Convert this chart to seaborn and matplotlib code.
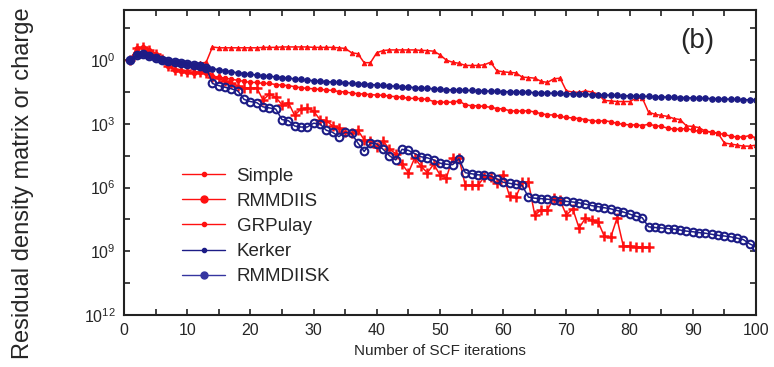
import numpy as np
import pandas as pd
import matplotlib
matplotlib.use("Agg")
import matplotlib.pyplot as plt
import seaborn as sns
from matplotlib.lines import Line2D
from matplotlib.ticker import FixedLocator, NullFormatter, MultipleLocator

# log10 of the residual (iteration 1, 2, 3, ...)
simple = [0.00, 0.55, 0.60, 0.50, 0.30, 0.05, -0.30, -0.45, -0.50, -0.55,
          -0.60, -0.55, -0.60, -0.75, -0.80, -0.85, -0.90, -0.95, -1.00, -1.05,
          -1.05, -1.10, -1.10, -1.15, -1.18, -1.20, -1.25, -1.30, -1.33, -1.35,
          -1.38, -1.40, -1.43, -1.48, -1.50, -1.55, -1.58, -1.60, -1.62, -1.65,
          -1.65, -1.70, -1.72, -1.75, -1.80, -1.80, -1.82, -1.85, -1.95, -1.98,
          -1.98, -1.98, -1.92, -2.10, -2.15, -2.15, -2.18, -2.22, -2.28, -2.30,
          -2.38, -2.40, -2.40, -2.38, -2.45, -2.52, -2.58, -2.58, -2.65, -2.70,
          -2.72, -2.75, -2.80, -2.85, -2.88, -2.85, -2.90, -2.98, -3.02, -3.05,
          -3.05, -3.08, -3.02, -3.08, -3.12, -3.20, -3.25, -3.25, -3.22, -3.30,
          -3.35, -3.35, -3.38, -3.45, -3.50, -3.58, -3.62, -3.62, -3.55, -3.67]

rmmdiis = [0.00, 0.55, 0.60, 0.50, 0.30, 0.05, -0.30, -0.45, -0.50, -0.55,
           -0.60, -0.55, -0.60, -0.80, -0.85, -1.00, -1.10, -1.20, -1.30, -1.32,
           -1.30, -1.88, -1.60, -1.75, -2.10, -2.00, -2.60, -2.30, -2.25, -2.40,
           -2.80, -2.85, -3.10, -3.20, -3.40, -3.45, -3.30, -3.75, -3.80, -4.10,
           -3.80, -4.20, -4.40, -4.90, -5.30, -4.60, -5.00, -5.30, -4.90, -5.40,
           -5.55, -4.60, -4.60, -5.90, -5.90, -5.90, -5.50, -5.50, -5.80, -5.40,
           -6.40, -6.45, -5.75, -5.75, -7.30, -7.05, -7.05, -6.50, -6.60, -7.30,
           -7.00, -7.90, -7.45, -7.55, -7.60, -8.30, -8.35, -7.45, -8.75, -8.75,
           -8.80, -8.80, -8.82]

grpulay = [0.00, 0.55, 0.60, 0.50, 0.30, 0.05, -0.25, -0.40, -0.45, -0.50,
           -0.45, -0.15, -0.10, 0.62, 0.58, 0.58, 0.58, 0.58, 0.58, 0.58,
           0.58, 0.60, 0.60, 0.60, 0.62, 0.62, 0.62, 0.62, 0.62, 0.60,
           0.60, 0.60, 0.60, 0.58, 0.55, 0.35, 0.30, -0.12, -0.12, 0.35,
           0.45, 0.48, 0.48, 0.48, 0.48, 0.48, 0.46, 0.45, 0.42, 0.25,
           0.00, -0.10, -0.15, -0.25, -0.25, -0.25, -0.22, -0.10, -0.50, -0.55,
           -0.58, -0.60, -0.80, -0.82, -0.85, -1.00, -1.05, -0.88, -0.85, -1.45,
           -1.50, -1.52, -1.45, -1.50, -1.60, -1.90, -1.92, -1.95, -1.95, -1.95,
           -1.80, -1.78, -2.45, -2.55, -2.60, -2.65, -2.75, -2.80, -3.10, -3.12,
           -3.18, -3.35, -3.40, -3.45, -3.90, -3.95, -4.00, -4.05, -4.05, -4.00]

kerker = [0.00, 0.23, 0.28, 0.18, 0.08, 0.00, -0.05, -0.10, -0.15, -0.20,
          -0.25, -0.30, -0.35, -0.40, -0.45, -0.50, -0.55, -0.60, -0.63, -0.67,
          -0.70, -0.73, -0.76, -0.79, -0.82, -0.85, -0.88, -0.91, -0.94, -0.97,
          -0.99, -1.01, -1.03, -1.05, -1.07, -1.09, -1.11, -1.13, -1.15, -1.17,
          -1.19, -1.21, -1.23, -1.25, -1.27, -1.29, -1.31, -1.33, -1.35, -1.37,
          -1.39, -1.40, -1.41, -1.42, -1.43, -1.44, -1.45, -1.46, -1.47, -1.48,
          -1.49, -1.50, -1.51, -1.52, -1.53, -1.54, -1.55, -1.56, -1.57, -1.58,
          -1.59, -1.60, -1.61, -1.62, -1.63, -1.64, -1.65, -1.66, -1.67, -1.68,
          -1.69, -1.70, -1.71, -1.72, -1.73, -1.74, -1.75, -1.76, -1.77, -1.78,
          -1.79, -1.80, -1.81, -1.82, -1.83, -1.84, -1.85, -1.86, -1.87, -1.88]

rmmdiisk = [0.00, 0.23, 0.28, 0.18, 0.08, 0.00, -0.05, -0.10, -0.15, -0.20,
            -0.25, -0.30, -0.35, -1.10, -1.20, -1.28, -1.35, -1.45, -1.85, -1.95,
            -2.00, -2.20, -2.25, -2.30, -2.80, -2.85, -3.10, -3.15, -3.15, -2.97,
            -3.00, -3.30, -3.40, -3.60, -3.40, -3.45, -3.90, -4.30, -3.90, -3.95,
            -4.20, -4.50, -4.70, -4.20, -4.25, -4.40, -4.55, -4.60, -4.70, -4.85,
            -4.90, -4.92, -4.65, -5.30, -5.35, -5.40, -5.42, -5.45, -5.60, -5.75,
            -5.80, -5.85, -5.90, -6.45, -6.50, -6.52, -6.55, -6.58, -6.62, -6.65,
            -6.68, -6.72, -6.78, -6.85, -6.90, -6.95, -7.00, -7.08, -7.15, -7.25,
            -7.35, -7.42, -7.85, -7.88, -7.90, -7.93, -7.96, -8.00, -8.05, -8.08,
            -8.12, -8.15, -8.20, -8.25, -8.28, -8.32, -8.38, -8.45, -8.65, -8.80]

labels = ["Simple", "RMMDIIS", "GRPulay", "Kerker", "RMMDIISK"]
ytick_vals = [1e0, 1e-3, 1e-6, 1e-9, 1e-12]
ytick_text = ["0", "3", "6", "9", "12"]

red = "#ff1010"
navy = "#1c1c86"

sns.set_style("ticks")
plt.rcParams["font.family"] = ["Liberation Sans", "DejaVu Sans"]
plt.rcParams["mathtext.fontset"] = "custom"
plt.rcParams["mathtext.rm"] = "Liberation Sans"

fig = plt.figure(figsize=(7.74, 3.67), dpi=100)
ax = fig.add_axes([124 / 774, 52 / 367, 632 / 774, 305 / 367])


def draw(vals, **kw):
    it = np.arange(1, len(vals) + 1)
    sns.lineplot(x=it, y=10.0 ** np.array(vals), ax=ax, estimator=None,
                 errorbar=None, legend=False, **kw)


draw(simple, color=red, lw=1.1, marker="o", ms=3.2, mec=red, mfc=red)
draw(grpulay, color=red, lw=1.1, marker="^", ms=3.2, mec=red, mfc=red)
draw(rmmdiis, color=red, lw=1.1, marker="+", ms=6.5, mew=1.8, mec=red)
draw(kerker, color=navy, lw=1.1, marker="o", ms=4.0, mec=navy, mfc=navy)
draw(rmmdiisk, color=navy, lw=1.1, marker="o", ms=5.5, mec=navy, mfc="none", mew=1.5)

ax.set_yscale("log")
ax.set_ylim(1e-12, 10 ** 2.36)
ax.set_xlim(0, 100)

ax.yaxis.set_major_locator(FixedLocator(ytick_vals))
ax.set_yticklabels([r"$\mathregular{10^{%s}}$" % t for t in ytick_text])
ax.yaxis.set_minor_locator(FixedLocator([10 ** 1.5, 10 ** -1.5, 10 ** -4.5,
                                         10 ** -7.5, 10 ** -10.5]))
ax.yaxis.set_minor_formatter(NullFormatter())
ax.xaxis.set_major_locator(MultipleLocator(10))
ax.xaxis.set_minor_locator(MultipleLocator(5))

ax.tick_params(which="both", direction="in", top=True, right=True,
               length=4.5, width=1.2, color="#222222")
ax.tick_params(axis="both", labelsize=11.5, pad=6)
for s in ax.spines.values():
    s.set_linewidth(1.5)
    s.set_color("#222222")

ax.set_xlabel("Number of SCF iterations", fontsize=11, labelpad=4)
fig.text(23 / 774, 0.5, "Residual density matrix or charge",
         rotation=90, ha="center", va="center", fontsize=17)
fig.text(697 / 774, 1 - 41 / 367, "(b)", ha="center", va="center", fontsize=20)

handles = [
    Line2D([], [], color=red, lw=1.0, marker="o", ms=3),
    Line2D([], [], color=red, lw=1.0, marker="o", ms=5),
    Line2D([], [], color=red, lw=1.0, marker="o", ms=3),
    Line2D([], [], color=navy, lw=1.0, marker="o", ms=3),
    Line2D([], [], color="#3535a0", lw=1.0, marker="o", ms=5),
]
ax.legend(handles, labels, loc="upper left", bbox_to_anchor=(0.092, 0.484),
          frameon=False, fontsize=13.5, handlelength=2.3, handletextpad=0.6,
          labelspacing=0.43, borderaxespad=0, borderpad=0)

fig.savefig("out.png", dpi=100)
